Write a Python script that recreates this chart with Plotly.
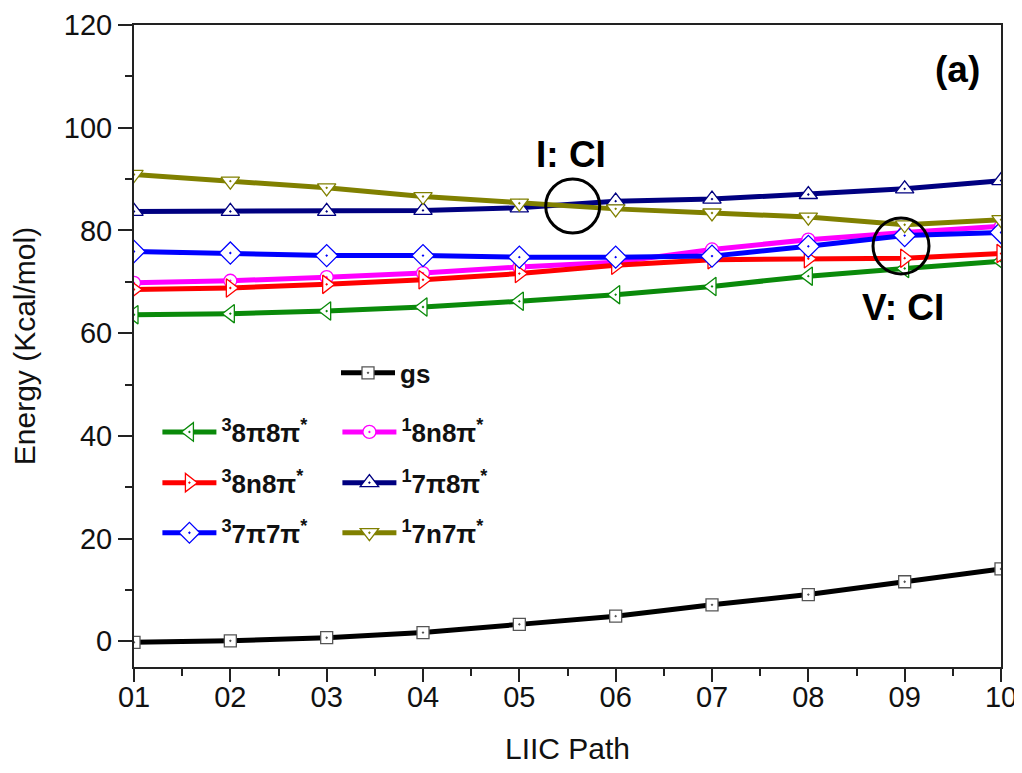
import plotly.graph_objects as go

path_labels = ["01", "02", "03", "04", "05", "06", "07", "08", "09", "10"]
path_pos = [1, 2, 3, 4, 5, 6, 7, 8, 9, 10]

gs = [-0.2, 0.1, 0.7, 1.7, 3.3, 4.9, 7.1, 9.1, 11.6, 14.1]
t_8pi8pi = [63.6, 63.8, 64.3, 65.1, 66.2, 67.5, 69.1, 71.1, 72.6, 74.0]
t_8n8pi = [68.5, 68.8, 69.5, 70.4, 71.6, 73.2, 74.3, 74.5, 74.6, 75.5]
t_7pi7pi = [75.9, 75.6, 75.1, 75.1, 74.8, 74.8, 75.0, 76.9, 79.0, 79.6]
s_8n8pi = [69.8, 70.2, 70.9, 71.7, 72.9, 73.8, 76.3, 78.2, 79.6, 80.8]
s_7pi8pi = [83.7, 83.7, 83.7, 83.9, 84.4, 85.7, 86.1, 87.0, 88.1, 89.7]
s_7n7pi = [90.9, 89.6, 88.3, 86.6, 85.3, 84.2, 83.4, 82.6, 81.1, 82.1]

# name, values, color, symbol, size, legend group, marker outline
series = [
    ("gs", gs, "#000000", "square-dot", 12, "legend", "#555555"),
    ("<sup>3</sup>8\u03c08\u03c0<sup>*</sup>", t_8pi8pi, "#0a8a0a", "triangle-left-dot", 16, "legend2", None),
    ("<sup>1</sup>8n8\u03c0<sup>*</sup>", s_8n8pi, "#ff00ff", "circle-dot", 13, "legend2", None),
    ("<sup>3</sup>8n8\u03c0<sup>*</sup>", t_8n8pi, "#ff0000", "triangle-right-dot", 16, "legend3", None),
    ("<sup>3</sup>7\u03c07\u03c0<sup>*</sup>", t_7pi7pi, "#0000ff", "diamond-dot", 17, "legend4", None),
    ("<sup>1</sup>7\u03c08\u03c0<sup>*</sup>", s_7pi8pi, "#000080", "triangle-up-dot", 16, "legend3", None),
    ("<sup>1</sup>7n7\u03c0<sup>*</sup>", s_7n7pi, "#808000", "triangle-down-dot", 16, "legend4", None),
]

fig = go.Figure()
for i, (name, vals, color, sym, size, leg, mline) in enumerate(series):
    fig.add_trace(go.Scatter(
        x=path_pos, y=vals, name=name, mode="lines+markers",
        line=dict(color=color, width=5),
        marker=dict(symbol=sym, size=size, color="white",
                    line=dict(color=mline or color, width=1.3)),
        legend=leg,
    ))

font_main = "Liberation Sans, Arial, sans-serif"
legend_common = dict(
    bgcolor="rgba(0,0,0,0)", borderwidth=0,
    font=dict(family=font_main, size=26, color="#111111", weight="bold"),
    itemwidth=54, tracegroupgap=0, xanchor="left", yanchor="middle",
    orientation="h", entrywidth=111, entrywidthmode="pixels",
)

fig.update_layout(
    width=1014, height=757,
    margin=dict(l=126, r=21, t=17, b=98),
    paper_bgcolor="white", plot_bgcolor="white",
    showlegend=True,
    legend=dict(x=0.233, y=0.458, **legend_common),
    legend2=dict(x=0.027, y=0.366, **legend_common),
    legend3=dict(x=0.027, y=0.287, **legend_common),
    legend4=dict(x=0.027, y=0.209, **legend_common),
    xaxis=dict(
        range=[1, 10], tickmode="array", tickvals=path_pos, ticktext=path_labels,
        ticks="outside", ticklen=13, tickwidth=2, tickcolor="#222222",
        minor=dict(tickmode="linear", tick0=1.5, dtick=1, ticks="outside", ticklen=7, tickwidth=2, tickcolor="#222222"),
        showline=True, linecolor="#222222", linewidth=2, mirror=True,
        showgrid=False, zeroline=False, automargin=False,
        ticklabelstandoff=-10,
        tickfont=dict(family=font_main, size=29, color="#111111"),
        title=dict(text="LIIC Path", font=dict(family=font_main, size=30, color="#111111"), standoff=28),
    ),
    yaxis=dict(
        range=[-5, 120], tickmode="linear", tick0=0, dtick=20,
        ticks="outside", ticklen=14, tickwidth=2, tickcolor="#222222",
        minor=dict(tickmode="linear", tick0=10, dtick=20, ticks="outside", ticklen=7, tickwidth=2, tickcolor="#222222"),
        showline=True, linecolor="#222222", linewidth=2, mirror=True,
        showgrid=False, zeroline=False, automargin=False,
        tickfont=dict(family=font_main, size=29, color="#111111"),
        title=dict(text="Energy (Kcal/mol)", font=dict(family=font_main, size=30, color="#111111"), standoff=20),
    ),
)

ann_font = dict(family=font_main, size=37, color="#000000", weight="bold")
fig.add_annotation(x=5.54, y=94.7, text="I: CI", showarrow=False, xref="x", yref="y",
                   xanchor="center", yanchor="middle", font=ann_font)
fig.add_annotation(x=8.98, y=64.9, text="V: CI", showarrow=False, xref="x", yref="y",
                   xanchor="center", yanchor="middle", font=ann_font)
fig.add_annotation(x=0.950, y=0.931, text="(a)", showarrow=False, xref="paper", yref="paper",
                   xanchor="center", yanchor="middle", font=ann_font)

for cx, cy, r in [(5.554, 84.76, 27), (8.962, 76.97, 28)]:
    fig.add_shape(type="circle", xref="x", yref="y", xsizemode="pixel", ysizemode="pixel",
                  xanchor=cx, yanchor=cy, x0=-r, x1=r, y0=-r, y1=r,
                  line=dict(color="black", width=3))

fig.write_html("out.html")
